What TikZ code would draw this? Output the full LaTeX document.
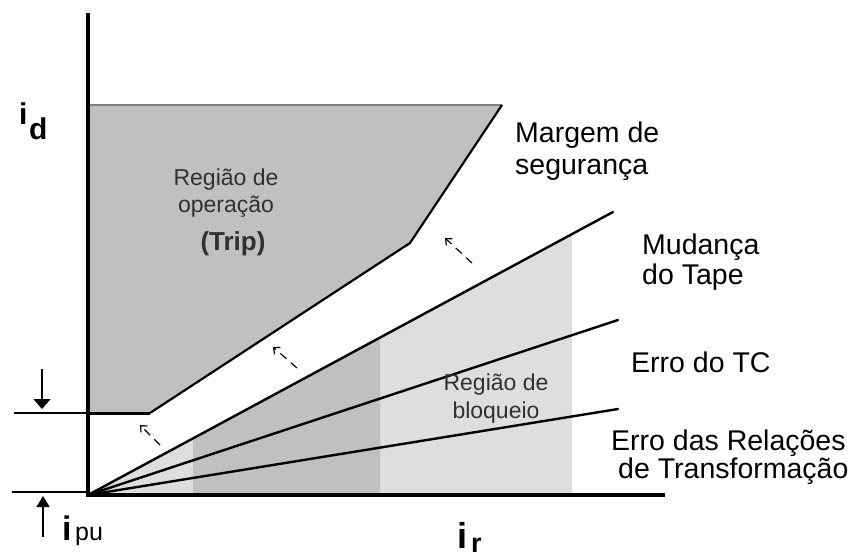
\documentclass[tikz,border=0pt]{standalone}
\usepackage{fontspec}
\setmainfont{Liberation Sans}
\usetikzlibrary{arrows.meta}
\definecolor{darkgr}{HTML}{C0C0C0}
\definecolor{lightgr}{HTML}{DEDEDE}
\definecolor{edgegr}{HTML}{808080}
\definecolor{txtgr}{HTML}{303030}
\begin{document}
\begin{tikzpicture}[x=1pt,y=-1pt,
  axisline/.style={line width=3.5pt,line cap=rect},
  curveline/.style={line width=2.4pt,line cap=round},
  thinline/.style={line width=1.4pt},
  shiftarr/.style={line width=1.2pt,dash pattern=on 8pt off 6pt,-{Straight Barb[length=5pt,width=9pt,line width=1.2pt]}},
  lbl/.style={inner sep=0pt,anchor=base west,font=\fontsize{28.5}{30}\selectfont},
  reg/.style={inner sep=0pt,anchor=base,text=txtgr,font=\fontsize{23}{25}\selectfont},
  sym/.style={inner sep=0pt,anchor=base west}]
\useasboundingbox (0,0) rectangle (855,556);
% coordinates
\coordinate (O) at (88,495);
\coordinate (Ytop) at (88,15);
\coordinate (Xend) at (663,495);
\coordinate (A1) at (613,212);
\coordinate (A2) at (618,320);
\coordinate (A3) at (618,409);
\coordinate (L1) at (572,234.1);
\coordinate (L2) at (572,495);
\coordinate (D1) at (193,438.4);
\coordinate (D2) at (193,495);
\coordinate (D3) at (380,337.6);
\coordinate (D4) at (380,495);
\coordinate (P1) at (88,105);
\coordinate (P2) at (502,105);
\coordinate (P3) at (410,243);
\coordinate (P4) at (150,413);
\coordinate (P5) at (88,413);
\coordinate (H1) at (14,413);
\coordinate (H2) at (12,492);
\coordinate (H3) at (88,492);
\coordinate (T1) at (42,369);
\coordinate (T2) at (42,409);
\coordinate (U1) at (43,537);
\coordinate (U2) at (43,496);
\coordinate (a1s) at (160,445);
\coordinate (a1e) at (140,425);
\coordinate (a2s) at (297,368);
\coordinate (a2e) at (273,347);
\coordinate (a3s) at (472,263);
\coordinate (a3e) at (445,238);
% fills
\fill[lightgr] (O) -- (L1) -- (L2) -- cycle;
\fill[darkgr] (D2) -- (D1) -- (D3) -- (D4) -- cycle;
\fill[darkgr] (P1) -- (P2) -- (P3) -- (P4) -- (P5) -- cycle;
% operation region edges
\draw[edgegr,line width=2pt] (P1) -- (P2);
\draw[line width=2.2pt,line join=round] (P2) -- (P3) -- (P4);
\draw[line width=3pt] (P4) -- (P5);
% characteristic lines
\draw[curveline] (O) -- (A1);
\draw[curveline] (O) -- (A2);
\draw[curveline] (O) -- (A3);
% axes
\draw[axisline] (Ytop) -- (O) -- (Xend);
% pickup markers
\draw[thinline] (H1) -- (P5);
\draw[thinline] (H2) -- (H3);
\draw[thinline,-{Triangle[length=10pt,width=17pt]}] (T1) -- (T2);
\draw[thinline,-{Triangle[length=11pt,width=13pt]}] (U1) -- (U2);
% shift arrows
\draw[shiftarr] (a1s) -- (a1e);
\draw[shiftarr] (a2s) -- (a2e);
\draw[shiftarr] (a3s) -- (a3e);
% axis labels
\node[sym,font=\fontsize{30}{30}\selectfont\bfseries] (idi) at (19,125) {i};
\node[sym,font=\fontsize{30}{30}\selectfont\bfseries] (idd) at (29,140) {d};
\node[sym,font=\fontsize{34}{34}\selectfont\bfseries] (ipui) at (62,540) {i};
\node[sym,font=\fontsize{25}{25}\selectfont] (ipup) at (75,540) {pu};
\node[sym,font=\fontsize{36}{36}\selectfont\bfseries] (iri) at (457,548) {i};
\node[sym,font=\fontsize{27}{27}\selectfont\bfseries] (irr) at (471,552) {r};
% right labels
\node[lbl] (marg1) at (515,143) {Margem de};
\node[lbl] (marg2) at (515,175) {segurança};
\node[lbl] (mud1) at (642,255) {Mudança};
\node[lbl] (mud2) at (642,285) {do Tape};
\node[lbl] (etc) at (631,373) {Erro do TC};
\node[lbl] (err1) at (611,450) {Erro das Relações};
\node[lbl] (err2) at (618,478) {de Transformação};
% region labels
\node[reg] (op1) at (226,186) {Região de};
\node[reg] (op2) at (226,213) {operação};
\node[reg,font=\fontsize{26}{28}\selectfont\bfseries] (op3) at (233,251) {(Trip)};
\node[reg] (bl1) at (496,391) {Região de};
\node[reg] (bl2) at (496,418) {bloqueio};
\end{tikzpicture}
\end{document}
